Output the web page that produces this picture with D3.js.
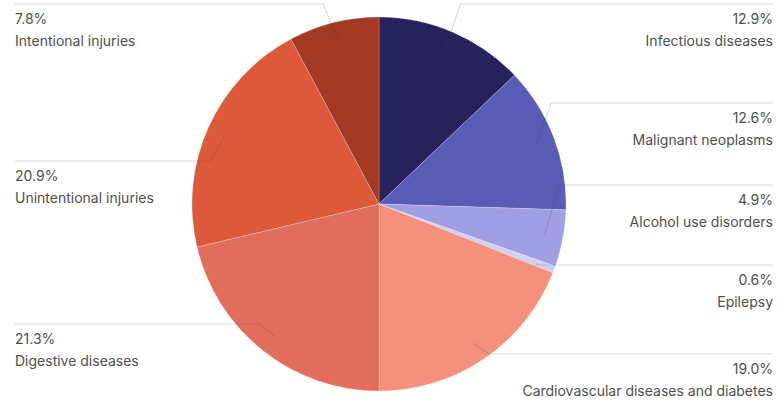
<!DOCTYPE html>
<html>
<head>
<meta charset="utf-8">
<script src="https://cdn.jsdelivr.net/npm/d3@7"></script>
<style>
  html, body { margin: 0; padding: 0; background: #fff; }
  svg { display: block; }
  text { font-family: Inter, "Open Sans", sans-serif; font-size: 14px; fill: #4f4f4f; }
</style>
</head>
<body>
<svg id="chart" width="779" height="403"></svg>
<script>
// Causes of death, share of total (%)
const categories = [
  "Infectious diseases",
  "Malignant neoplasms",
  "Alcohol use disorders",
  "Epilepsy",
  "Cardiovascular diseases and diabetes",
  "Digestive diseases",
  "Unintentional injuries",
  "Intentional injuries"
];
const shares = [12.9, 12.6, 4.9, 0.6, 19.0, 21.3, 20.9, 7.8];
const colors = ["#26235c", "#5a5bb5", "#a09fe6", "#d0d0f5", "#f5907d", "#e16d5d", "#dc5a3b", "#a33823"];

// Label placement: y of the rule above each label
const labelRuleY = [4, 103, 185, 265, 354, 324, 161, 4];

const W = 779, H = 403;
const cx = 379, cy = 204, R = 187;
const leftX = 15, rightX = 773;

const svg = d3.select("#chart");

const pie = d3.pie().value(d => d).sort(null);
const arcs = pie(shares);
const arc = d3.arc().innerRadius(0).outerRadius(R);

const g = svg.append("g").attr("transform", `translate(${cx},${cy})`);

g.selectAll("path.slice")
  .data(arcs)
  .join("path")
  .attr("class", "slice")
  .attr("d", arc)
  .attr("fill", (d, i) => colors[i])
  .attr("stroke", "#ffffff")
  .attr("stroke-opacity", 0.35)
  .attr("stroke-width", 0.6);

// Leader lines and labels
const tickR = R * 0.9;
const lines = svg.append("g");
const labels = svg.append("g");

arcs.forEach((d, i) => {
  const mid = (d.startAngle + d.endAngle) / 2;
  const ax = cx + Math.sin(mid) * tickR;
  const ay = cy - Math.cos(mid) * tickR;
  const right = Math.sin(mid) > 0;
  const ly = labelRuleY[i];
  const bent = Math.abs(ay - ly) > 6;
  const ex = bent ? ax + (right ? 15 : -15) : ax;
  const edge = right ? rightX : leftX;

  lines.append("path")
    .attr("d", d3.line()([[ax, ay], [ex, ly], [edge, ly]]))
    .attr("fill", "none")
    .attr("stroke", "rgba(70,70,70,0.2)")
    .attr("stroke-width", 1.2);

  const anchor = right ? "end" : "start";
  labels.append("text")
    .attr("x", edge).attr("y", ly + 20)
    .attr("text-anchor", anchor)
    .text(d3.format(".1f")(shares[i]) + "%");
  labels.append("text")
    .attr("x", edge).attr("y", ly + 42)
    .attr("text-anchor", anchor)
    .text(categories[i]);
});
</script>
</body>
</html>
